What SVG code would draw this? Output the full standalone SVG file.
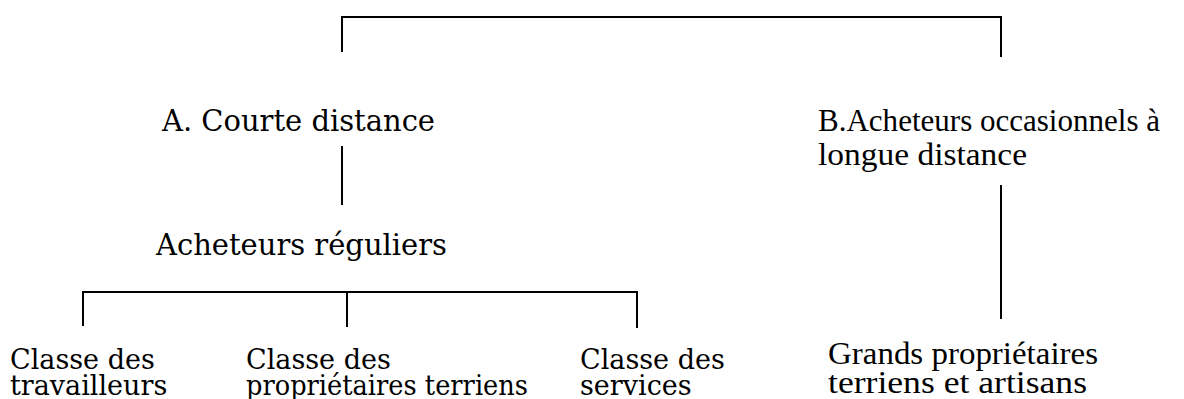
<svg xmlns="http://www.w3.org/2000/svg" width="1184" height="399" viewBox="0 0 1184 399">
<style>
.c{stroke:#000;stroke-width:2;fill:none}
.a{font-family:"DejaVu Serif","Liberation Serif",serif;font-size:29px;fill:#000}
.b{font-family:"Liberation Serif","Times New Roman",serif;font-size:32px;fill:#000}
.s{font-family:"DejaVu Serif","Liberation Serif",serif;font-size:27px;fill:#000}
</style>
<rect width="1184" height="399" fill="#fff"/>
<g id="connectors">
<polyline class="c" points="342,52 342,17 1001,17 1001,57"/>
<line class="c" x1="342" y1="146" x2="342" y2="205"/>
<polyline class="c" points="83,326 83,292 637,292 637,328"/>
<line class="c" x1="347" y1="292" x2="347" y2="327"/>
<line class="c" x1="1001" y1="185" x2="1001" y2="319"/>
</g>
<g id="nodeA"><text class="a" x="162" y="131" textLength="273" lengthAdjust="spacingAndGlyphs">A. Courte distance</text></g>
<g id="nodeReg"><text class="a" x="156" y="255" textLength="291" lengthAdjust="spacingAndGlyphs">Acheteurs réguliers</text></g>
<g id="nodeT"><text class="s" x="10" y="369">Classe des</text><text class="s" x="10" y="395">travailleurs</text></g>
<g id="nodeP"><text class="s" x="246" y="369">Classe des</text><text class="s" x="246" y="395" textLength="282" lengthAdjust="spacingAndGlyphs">propriétaires terriens</text></g>
<g id="nodeS"><text class="s" x="580" y="369">Classe des</text><text class="s" x="580" y="395">services</text></g>
<g id="nodeB"><text class="b" x="818" y="131" textLength="342" lengthAdjust="spacingAndGlyphs">B.Acheteurs occasionnels à</text><text class="b" x="818" y="165" textLength="209" lengthAdjust="spacingAndGlyphs">longue distance</text></g>
<g id="nodeG"><text class="b" x="828" y="364" textLength="270" lengthAdjust="spacingAndGlyphs">Grands propriétaires</text><text class="b" x="828" y="393" textLength="259" lengthAdjust="spacingAndGlyphs">terriens et artisans</text></g>
</svg>
